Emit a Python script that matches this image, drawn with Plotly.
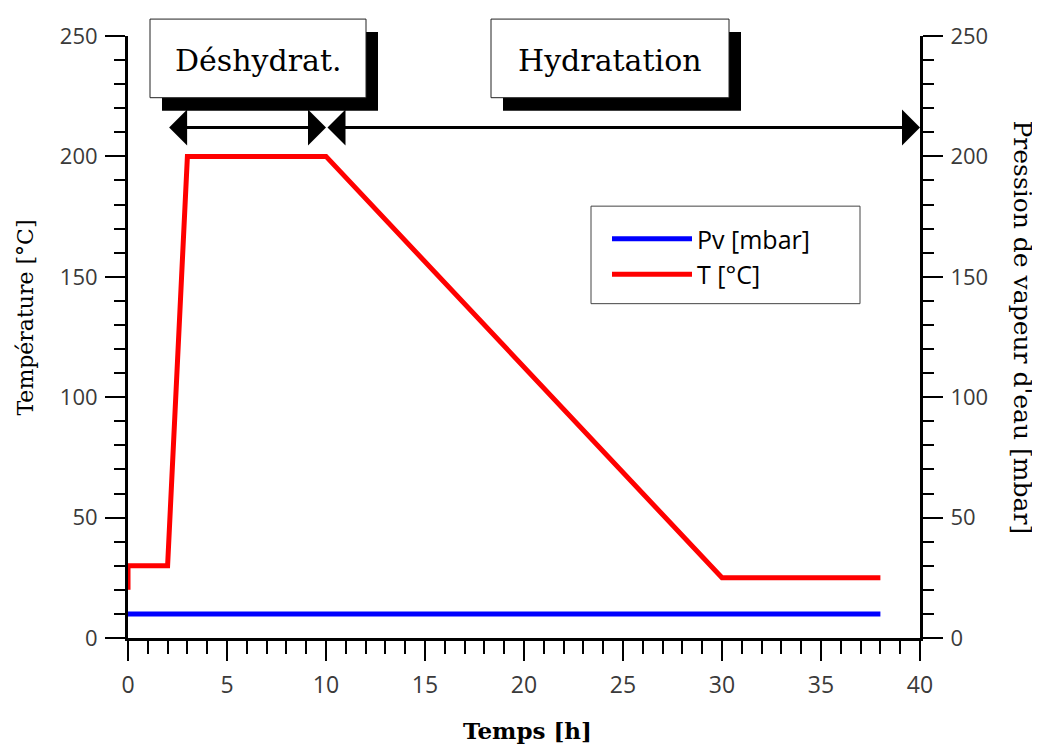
import plotly.graph_objects as go

# temperature profile (left axis) and vapour pressure (right axis)
temps_h = [0, 0, 2, 3, 10, 30, 38]
temp_c = [20, 30, 30, 200, 200, 25, 25]

pv_h = [0, 38]
pv_mbar = [10, 10]

# phases shown as boxes + arrows above the curve
phase_names = ['Déshydrat.', 'Hydratation']
phase_start = [2, 10]
phase_end = [10, 40]
phase_arrow_level = 212

serif = 'DejaVu Serif, Liberation Serif, serif'
sans = 'Open Sans, Noto Sans, sans-serif'

# plot area in page pixels: x 128..920, y 33..638
PW, PH = 792, 605

def px(x):
    return (x - 128) / PW

def py(y):
    return (638 - y) / PH

fig = go.Figure()
fig.add_trace(go.Scatter(
        x = pv_h,
        y = pv_mbar,
        mode = 'lines',
        name = 'Pv [mbar]',
        line = dict(color = '#0000ff', width = 5),
        yaxis = 'y2'
    )
)
fig.add_trace(go.Scatter(
        x = temps_h,
        y = temp_c,
        mode = 'lines',
        name = 'T [°C]',
        line = dict(color = '#ff0000', width = 5)
    )
)

# boxes with drop shadow
box_x = [(150, 366), (491, 729)]
box_y = (16, 95)
shadow = (12, 13)
for (x0, x1), name in zip(box_x, phase_names):
    fig.add_shape(type = 'rect', xref = 'paper', yref = 'paper',
                  x0 = px(x0 + shadow[0]), x1 = px(x1 + shadow[0]),
                  y0 = py(box_y[0] + shadow[1]), y1 = py(box_y[1] + shadow[1]),
                  fillcolor = 'black', line = dict(width = 0))
    fig.add_shape(type = 'rect', xref = 'paper', yref = 'paper',
                  x0 = px(x0), x1 = px(x1), y0 = py(box_y[0]), y1 = py(box_y[1]),
                  fillcolor = 'white', line = dict(color = '#222', width = 1))
    fig.add_annotation(x = px((x0 + x1) / 2), y = py((box_y[0] + box_y[1]) / 2 + 2),
                       xref = 'paper', yref = 'paper', text = name,
                       xanchor = 'center', yanchor = 'middle',
                       showarrow = False,
                       font = dict(family = serif, size = 30, color = 'black'))

for s, e in zip(phase_start, phase_end):
    fig.add_annotation(x = e, y = phase_arrow_level, ax = s, ay = phase_arrow_level,
                       xref = 'x', yref = 'y', axref = 'x', ayref = 'y',
                       text = '', showarrow = True, arrowside = 'end+start',
                       arrowhead = 1, startarrowhead = 1,
                       arrowsize = 2.0, startarrowsize = 2.0,
                       arrowwidth = 3, arrowcolor = 'black', standoff = 0, startstandoff = 0)

# legend frame
fig.add_shape(type = 'rect', xref = 'paper', yref = 'paper',
              x0 = px(591), x1 = px(860), y0 = py(302), y1 = py(204),
              fillcolor = 'white', line = dict(color = '#444', width = 1))

# axis titles as annotations
fig.add_annotation(x = px(26), y = py(316), xref = 'paper', yref = 'paper',
                   text = 'Température [°C]', textangle = -90,
                   xanchor = 'center', yanchor = 'middle', showarrow = False,
                   font = dict(family = serif, size = 22, color = 'black'))
fig.add_annotation(x = px(1022), y = py(326), xref = 'paper', yref = 'paper',
                   text = "Pression de vapeur d'eau [mbar]", textangle = 90,
                   xanchor = 'center', yanchor = 'middle', showarrow = False,
                   font = dict(family = serif, size = 25, color = 'black'))
fig.add_annotation(x = px(527), y = py(731), xref = 'paper', yref = 'paper',
                   text = '<b>Temps [h]</b>',
                   xanchor = 'center', yanchor = 'middle', showarrow = False,
                   font = dict(family = serif, size = 23, color = 'black'))

axis_style = dict(
        showline = True, linecolor = 'black', linewidth = 3,
        ticks = 'outside', ticklen = 20, tickwidth = 2, tickcolor = 'black',
        showgrid = False, zeroline = False,
)
y_tickfont = dict(family = sans, size = 22, color = '#3a3a3a')
x_tickfont = dict(family = sans, size = 23, color = '#3a3a3a')

# page body adds 8px offset, so figure is 1032x737
fig.update_layout(
        autosize = False,
        width = 1032,
        height = 737,
        plot_bgcolor = 'white',
        paper_bgcolor = 'white',
        margin = dict(l = 120, r = 120, t = 25, b = 107),
        showlegend = True,
        xaxis = dict(range = [0, 40], dtick = 5, tickfont = x_tickfont, ticklabelstandoff = 4,
                     minor = dict(dtick = 1, ticks = 'outside', ticklen = 13, tickwidth = 2, tickcolor = 'black'),
                     **axis_style),
        yaxis = dict(range = [0, 250], dtick = 50, tickfont = y_tickfont, ticklabelstandoff = 3,
                     minor = dict(dtick = 10, ticks = 'outside', ticklen = 11, tickwidth = 2, tickcolor = 'black'),
                     **axis_style),
        yaxis2 = dict(range = [0, 250], dtick = 50, overlaying = 'y', side = 'right',
                      tickfont = y_tickfont, ticklabelstandoff = 3,
                      minor = dict(dtick = 10, ticks = 'outside', ticklen = 11, tickwidth = 2, tickcolor = 'black'),
                      **axis_style),
        legend = dict(x = px(607), y = py(214), xanchor = 'left', yanchor = 'top',
                      bgcolor = 'rgba(0,0,0,0)', borderwidth = 0,
                      itemwidth = 80,
                      font = dict(family = sans, size = 25, color = 'black')),
)

fig.write_html("out.html")
